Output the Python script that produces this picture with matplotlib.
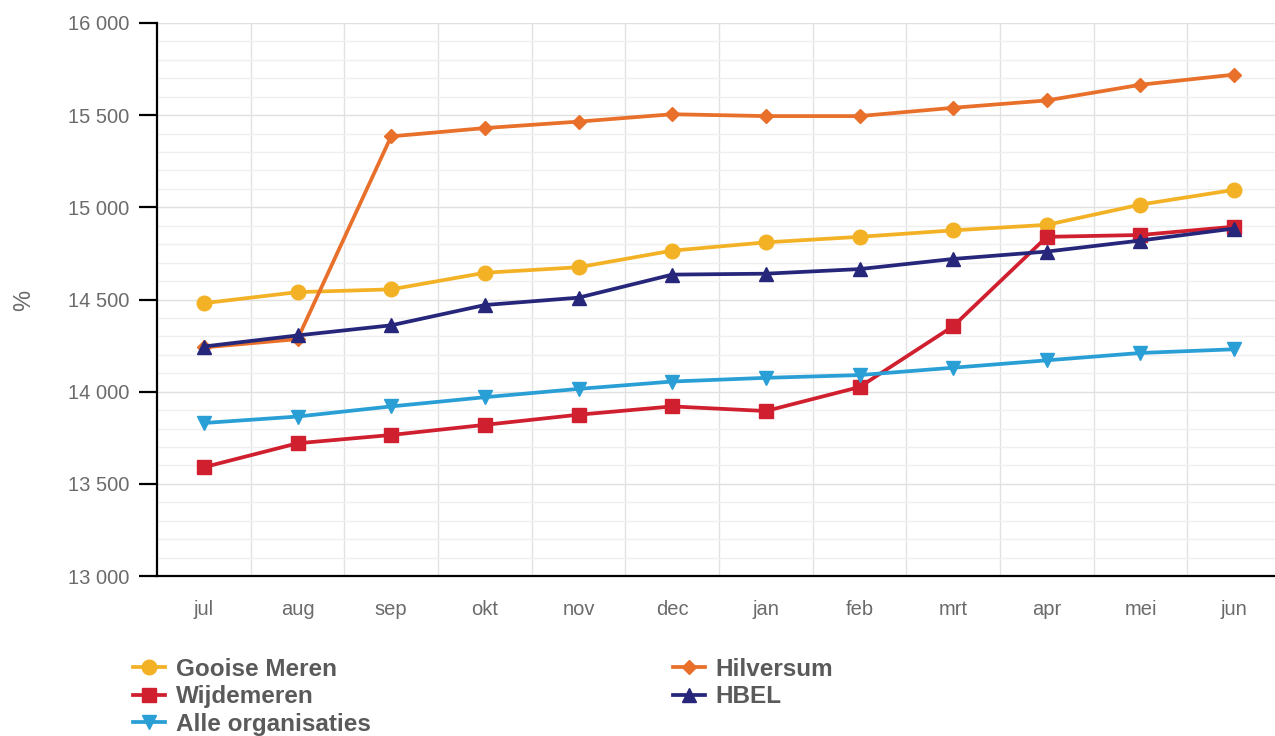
import numpy as np
import matplotlib
matplotlib.use('Agg')
import matplotlib.pyplot as plt
from matplotlib.ticker import MultipleLocator, FuncFormatter

# maanden en waarden
months = ['jul', 'aug', 'sep', 'okt', 'nov', 'dec', 'jan', 'feb', 'mrt', 'apr', 'mei', 'jun']
gooise_meren = [14480, 14540, 14555, 14645, 14675, 14765, 14810, 14840, 14875, 14905, 15015, 15095]
wijdemeren = [13590, 13720, 13765, 13820, 13875, 13920, 13895, 14025, 14355, 14840, 14850, 14895]
alle_organisaties = [13830, 13865, 13920, 13970, 14015, 14055, 14075, 14090, 14130, 14170, 14210, 14230]
hilversum = [14240, 14285, 15385, 15430, 15465, 15505, 15495, 15495, 15540, 15580, 15665, 15720]
hbel = [14245, 14305, 14360, 14470, 14510, 14635, 14640, 14665, 14720, 14760, 14820, 14885]

plt.rcParams['font.family'] = ['Liberation Sans', 'DejaVu Sans']

fig = plt.figure(figsize=(12.75, 7.36), dpi=100, facecolor='w')
ax = fig.add_axes([157 / 1275, 160 / 736, 1124 / 1275, 553 / 736])

x = np.arange(len(months))
lw = 2.7
l1, = ax.plot(x, gooise_meren, color='#f3b225', lw=lw, marker='o', ms=10.5, label='Gooise Meren', zorder=5)
l2, = ax.plot(x, wijdemeren, color='#d01f2e', lw=lw, marker='s', ms=10.5, label='Wijdemeren', zorder=5)
l3, = ax.plot(x, alle_organisaties, color='#2a9fd6', lw=lw, marker='v', ms=10.5, label='Alle organisaties', zorder=5)
l4, = ax.plot(x, hilversum, color='#e8702a', lw=lw, marker='D', ms=7.5, label='Hilversum', zorder=5)
l5, = ax.plot(x, hbel, color='#26277a', lw=lw, marker='^', ms=10.5, label='HBEL', zorder=5)

ax.set_xlim(-0.5, 11.5)
ax.set_ylim(13000, 16000)
ax.set_xticks(x)
ax.set_xticklabels(months)
ax.yaxis.set_major_locator(MultipleLocator(500))
ax.yaxis.set_minor_locator(MultipleLocator(100))
ax.yaxis.set_major_formatter(FuncFormatter(lambda v, p: '{:,.0f}'.format(v).replace(',', ' ')))

# rasterlijnen
for xv in np.arange(0.5, 11.5, 1):
    ax.axvline(xv, color='#e2e2e2', lw=1, zorder=0)
ax.grid(axis='y', which='major', color='#e0e0e0', lw=1, zorder=0)
ax.grid(axis='y', which='minor', color='#efefef', lw=1, zorder=0)

for s in ['top', 'right']:
    ax.spines[s].set_visible(False)
ax.spines['left'].set_linewidth(1.6)
ax.spines['bottom'].set_linewidth(1.6)
ax.tick_params(axis='y', which='major', length=13, width=1.6, pad=7, labelsize=14.5, labelcolor='#6b6b6b')
ax.tick_params(axis='y', which='minor', length=0)
ax.tick_params(axis='x', length=0, pad=17, labelsize=14.5, labelcolor='#6b6b6b')

fig.text(24 / 1275, 1 - 300 / 736, '%', rotation=90, ha='center', va='center', fontsize=17, color='#6b6b6b')

leg_kw = dict(frameon=False, prop={'size': 17.5, 'weight': 'bold'}, labelcolor='#5a5a5a',
              handlelength=1.3, handletextpad=0.45, labelspacing=0.18, borderpad=0, borderaxespad=0)
fig.legend(handles=[l1, l2, l3], loc='upper left', bbox_to_anchor=(133 / 1275, 1 - 658 / 736), **leg_kw)
fig.legend(handles=[l4, l5], loc='upper left', bbox_to_anchor=(673 / 1275, 1 - 658 / 736), **leg_kw)

fig.savefig('out.png', dpi=100, facecolor='w')
